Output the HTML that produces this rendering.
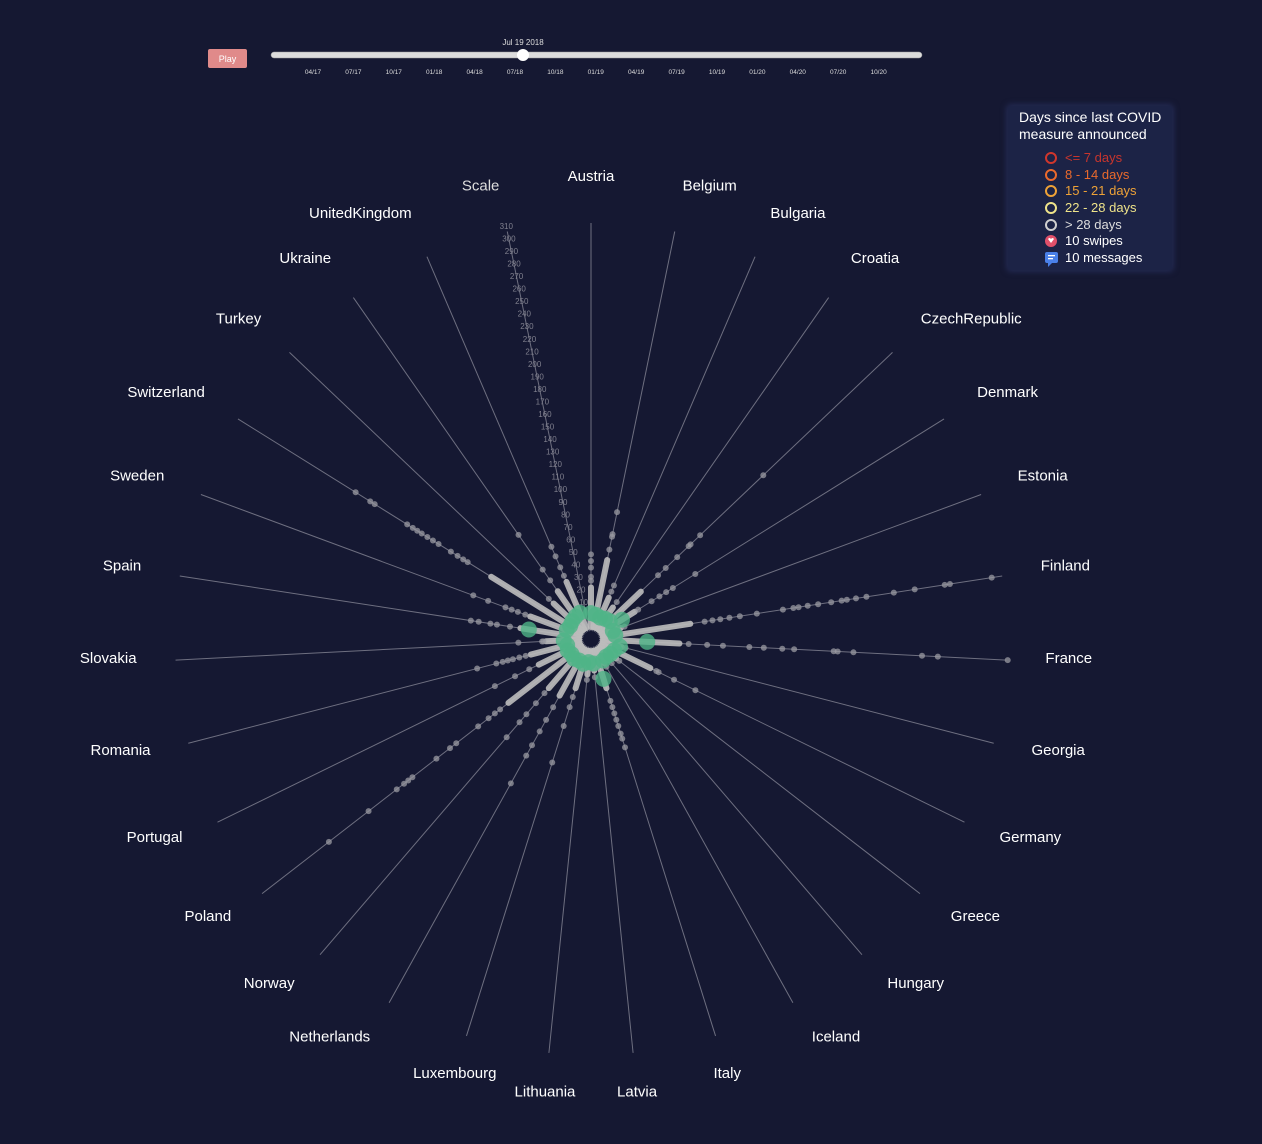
<!DOCTYPE html>
<html><head><meta charset="utf-8"><style>
html,body{margin:0;padding:0;background:#151832;}
body{width:1262px;height:1144px;overflow:hidden;position:relative;font-family:"Liberation Sans",sans-serif;}
#legend{position:absolute;left:1008px;top:106px;width:164px;height:164px;background:#1c2346;box-shadow:0 0 6px 2px #232a52;border-radius:3px;}
</style></head><body>
<svg id="chart" width="1262" height="1144" style="position:absolute;left:0;top:0">
  <g>
    <rect x="208" y="49" width="39" height="19" rx="2" fill="#e08a8a"/>
    <text x="227.5" y="62" font-size="9" fill="#fff" text-anchor="middle">Play</text>
    <rect x="271" y="52" width="651" height="6" rx="3" fill="#dcdcdc" stroke="#999" stroke-width="0.5"/>
    <circle cx="523" cy="55" r="6" fill="#fff"/>
    <text x="523" y="45" font-size="8" fill="#ddd" text-anchor="middle">Jul 19 2018</text>
    <g id="ticks"></g>
  </g>
  <g id="axes"></g>
  <g id="scale"></g>
  <g id="marks"></g>
  <g id="labels"></g>
</svg>
<div id="legend">
<svg width="164" height="164">
  <text x="11" y="16" font-size="14" fill="#fff">Days since last COVID</text>
  <text x="11" y="33" font-size="14" fill="#fff">measure announced</text>
  <g><circle cx="43" cy="52" r="5" fill="none" stroke="#d0362c" stroke-width="2"/><text x="57" y="56" font-size="13" fill="#c8352d">&lt;= 7 days</text></g>
  <g><circle cx="43" cy="69" r="5" fill="none" stroke="#eb6a2c" stroke-width="2"/><text x="57" y="73" font-size="13" fill="#eb6a2c">8 - 14 days</text></g>
  <g><circle cx="43" cy="85" r="5" fill="none" stroke="#eea237" stroke-width="2"/><text x="57" y="89" font-size="13" fill="#eea237">15 - 21 days</text></g>
  <g><circle cx="43" cy="102" r="5" fill="none" stroke="#eee38a" stroke-width="2"/><text x="57" y="106" font-size="13" fill="#eee38a">22 - 28 days</text></g>
  <g><circle cx="43" cy="119" r="5" fill="none" stroke="#cfcfcf" stroke-width="2"/><text x="57" y="123" font-size="13" fill="#ddd">&gt; 28 days</text></g>
  <g><circle cx="43" cy="135" r="6" fill="#e0506a"/><path d="M40 133 q1.5 -2 3 0 q1.5 -2 3 0 l-3 4 z" fill="#fff"/><text x="57" y="139" font-size="13" fill="#fff">10 swipes</text></g>
  <g><rect x="37" y="146" width="13" height="11" rx="2" fill="#4a80e8"/><path d="M40 157 l0 4 l4 -4z" fill="#4a80e8"/><rect x="40" y="149" width="7" height="1.3" fill="#fff"/><rect x="40" y="152" width="5" height="1.3" fill="#fff"/><text x="57" y="156" font-size="13" fill="#fff">10 messages</text></g>
</svg>
</div>
<script>
const countries = ["Austria","Belgium","Bulgaria","Croatia","CzechRepublic","Denmark","Estonia","Finland","France","Georgia","Germany","Greece","Hungary","Iceland","Italy","Latvia","Lithuania","Luxembourg","Netherlands","Norway","Poland","Portugal","Romania","Slovakia","Spain","Sweden","Switzerland","Turkey","Ukraine","UnitedKingdom","Scale"];
const denseMax = [30,52,25,20,43,30,15,67,58,15,41,15,12,12,30,15,18,30,40,40,70,35,38,25,45,40,80,30,35,38];
const scatterValues = [
 [35,38,45,50,55],
 [60,70,72,89],
 [30,35],
 [25],
 [61,69,81,93,95,105,171],
 [33,45,52,58,64,84],
 [18],
 [78,84,90,97,105,118,138,146,150,157,165,175,183,187,194,202,223,239,262,266,298],
 [65,79,91,111,122,136,145,175,178,190,242,254,307],
 [18],
 [46,48,61,79],
 [18],
 [15],
 [15],
 [40,45,50,55,60,66,70,77],
 [20],
 [22],
 [37,45,60,89],
 [50,61,71,83,92,116],
 [45,55,66,74,89],
 [78,83,89,99,120,126,139,162,166,170,177,204,242],
 [43,55,72],
 [42,47,52,56,60,65,80],
 [27,28,46],
 [53,63,68,77,83],
 [44,50,55,60,74,86],
 [101,105,110,116,127,132,137,142,146,150,155,184,188,201],
 [35],
 [45,55,87],
 [43,50,59,67]
];
const currentValues = [6,5,4,5,6,14,4,5,29,9,6,5,4,5,18,5,4,6,5,6,5,6,5,7,34,6,5,6,7,8];
const scaleTicks = [10,20,30,40,50,60,70,80,90,100,110,120,130,140,150,160,170,180,190,200,210,220,230,240,250,260,270,280,290,300,310];
const sliderTicks = ["04/17","07/17","10/17","01/18","04/18","07/18","10/18","01/19","04/19","07/19","10/19","01/20","04/20","07/20","10/20"];

const NS="http://www.w3.org/2000/svg";
const cx=591, cy=639, R=416, LRX=455, LRY=459, LCY=636;
const rScale = v => 12 + v*1.32;
const labelR = v => 24 + v*1.28;
const ang = i => i*2*Math.PI/countries.length;
const pt = (i,r) => [cx+Math.sin(ang(i))*r, cy-Math.cos(ang(i))*r];
function mk(tag,attrs,parent){const e=document.createElementNS(NS,tag);for(const k in attrs)e.setAttribute(k,attrs[k]);parent.appendChild(e);return e;}

const ticksG=document.getElementById('ticks');
sliderTicks.forEach((t,i)=>{
  const e=mk('text',{x:313+i*40.4,y:74,'font-size':6.5,fill:'#ddd','text-anchor':'middle'},ticksG);
  
  
  e.textContent=t;
});

const axesG=document.getElementById('axes'), labelsG=document.getElementById('labels'), marksG=document.getElementById('marks'), scaleG=document.getElementById('scale');
countries.forEach((c,i)=>{
  const [x1,y1]=pt(i,8),[x2,y2]=pt(i,R);
  const ln=mk('line',{x1,y1,x2,y2,stroke:'#6e6f80','stroke-width':1},axesG);
  
  
  const a=ang(i), s=Math.sin(a), co=Math.cos(a);
  let anchor = (co<-0.9 || Math.abs(s)<0.05) ? 'middle' : (s>0?'start':'end');
  const lx=cx+s*LRX, ly=LCY-co*LRY;
  const t=mk('text',{x:lx,y:ly,'font-size':15,fill:c==='Scale'?'#ddd':'#fff','text-anchor':anchor,'dominant-baseline':'middle'},labelsG);
  
  
  t.textContent=c;
});
const si=countries.length-1;
scaleTicks.forEach(v=>{
  const [x,y]=pt(si,labelR(v));
  const t=mk('text',{x,y,'font-size':8,fill:'#80808e','text-anchor':'middle','dominant-baseline':'middle'},scaleG);
  
  
  t.textContent=v;
});
denseMax.forEach((v,i)=>{
  const [x1,y1]=pt(i,rScale(0)),[x2,y2]=pt(i,rScale(v));
  const b=mk('line',{x1,y1,x2,y2,stroke:'#bdbdbd','stroke-width':6,'stroke-linecap':'round',opacity:0.9},marksG);
  
  
});
scatterValues.forEach((arr,i)=>{
  arr.forEach(v=>{
    const [x,y]=pt(i,rScale(v));
    const d=mk('circle',{cx:x,cy:y,r:3,fill:'#9a9aa2',opacity:0.75},marksG);
    
    
  });
});
currentValues.forEach((v,i)=>{
  const [x,y]=pt(i,rScale(v)+6);
  const g=mk('circle',{cx:x,cy:y,r:8,fill:'#4fb487',opacity:0.8},marksG);
  
  
});
const hole=mk('circle',{cx,cy,r:7,fill:'#151832'},marksG);


</script>
</body></html>
